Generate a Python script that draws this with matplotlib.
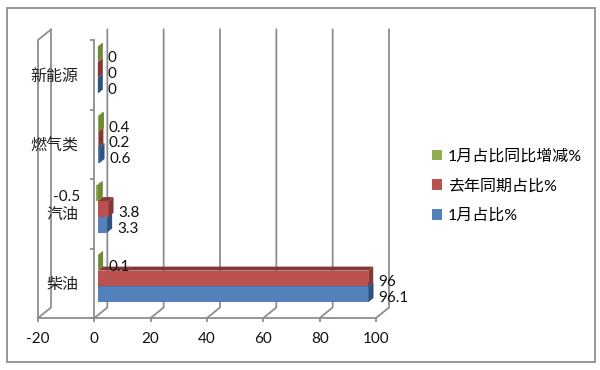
import matplotlib
matplotlib.use("Agg")
import matplotlib.pyplot as plt
from matplotlib.patches import Polygon, Rectangle

plt.rcParams["font.family"] = ["Lato", "Noto Sans CJK SC", "DejaVu Sans"]

categories = ["柴油", "汽油", "燃气类", "新能源"]
jan_share = [96.1, 3.3, 0.6, 0]
last_year_share = [96, 3.8, 0.2, 0]
yoy_change = [0.1, -0.5, 0.4, 0]
series_names = ["1月占比%", "去年同期占比%", "1月占比同比增减%"]
x_ticks = [-20, 0, 20, 40, 60, 80, 100]

GRAY = "#8e8e8e"
fronts = ["#5480bb", "#b9524f", "#8fae50"]
sides = ["#2f5380", "#863836", "#6f8a35"]

# pixels per data unit: axes is 338 x 278 px on the 600 x 370 canvas
fig = plt.figure(figsize=(6, 3.7), dpi=100, facecolor="white")
ax = fig.add_axes([38 / 600, 52 / 370, 338 / 600, 278 / 370])
ax.set_xlim(-20, 100)
ax.set_ylim(0, 4)
ux = 338 / 120
uy = 278 / 4

# 3D look, offsets in data units
wall_dx, wall_dy = 13 / ux, 10.5 / uy
bar_dx, bar_dy = 5 / ux, 4 / uy
bar_x0 = 3.5 / ux
bar_h = 15.7 / uy
bar_y0 = 16 / uy

fig.add_artist(Rectangle((7 / 600, 8 / 370), 588 / 600, 354 / 370, transform=fig.transFigure,
                         fill=False, edgecolor=GRAY, linewidth=1.3))

# walls and gridlines
for t in x_ticks:
    ax.plot([t, t + wall_dx, t + wall_dx], [0, wall_dy, 4 + wall_dy],
            color=GRAY, lw=1.3, clip_on=False, zorder=1)
ax.plot([-20, -20, -20 + wall_dx], [0, 4, 4 + wall_dy], color=GRAY, lw=1.3, clip_on=False, zorder=1)

# axes
for s in ["top", "right"]:
    ax.spines[s].set_visible(False)
for s in ["left", "bottom"]:
    ax.spines[s].set_color(GRAY)
    ax.spines[s].set_linewidth(1.3)
ax.spines["left"].set_position(("data", 0))
ax.patch.set_alpha(0)
ax.set_xticks(x_ticks)
ax.set_xticklabels([str(t) for t in x_ticks], fontsize=11, color="#111111")
ax.tick_params(axis="x", length=3, width=1.3, color=GRAY, pad=7)
ax.set_yticks(range(5))
ax.set_yticklabels([])
ax.tick_params(axis="y", which="major", length=3, width=1.3, color=GRAY)
ax.set_yticks([i + 0.5 for i in range(4)], categories, minor=True)
ax.tick_params(axis="y", which="minor", length=0, pad=11.5, labelsize=11.5, labelcolor="#222222")

# bars
all_series = [jan_share, last_year_share, yoy_change]
handles = []
for s, values in enumerate(all_series):
    bottoms = [i + bar_y0 + s * bar_h for i in range(len(categories))]
    lefts = [bar_x0] * len(values)
    bars = ax.barh(bottoms, values, height=bar_h, left=lefts, align="edge", color=fronts[s],
                   label=series_names[s], zorder=3 + s, clip_on=False)
    handles.append(bars)
    for y, v in zip(bottoms, values):
        x1 = bar_x0 + max(v, 0)
        x0 = bar_x0 + min(v, 0)
        ax.add_patch(Polygon([(x1, y), (x1 + bar_dx, y + bar_dy), (x1 + bar_dx, y + bar_h + bar_dy), (x1, y + bar_h)],
                             facecolor=sides[s], edgecolor="none", zorder=3 + s, clip_on=False))
        ax.add_patch(Polygon([(x0, y + bar_h), (x0 + bar_dx, y + bar_h + bar_dy), (x1 + bar_dx, y + bar_h + bar_dy), (x1, y + bar_h)],
                             facecolor=sides[s], edgecolor="none", zorder=3 + s, clip_on=False))
        # value label
        text_y = y + bar_h / 2 - 4 / uy
        if v < 0:
            ax.text(v - 4.5, text_y, f"{v:g}", ha="right", va="center", fontsize=11, color="#111111", zorder=10)
        else:
            ax.text(bar_x0 + v + 10 / ux, text_y, f"{v:g}", ha="left", va="center", fontsize=11, color="#111111", zorder=10)

leg = ax.legend(handles[::-1], series_names[::-1], loc="center left", bbox_to_anchor=(432 / 600, 184 / 370),
                bbox_transform=fig.transFigure, frameon=False, fontsize=11.5, handlelength=0.65, handleheight=0.65,
                handletextpad=0.35, labelspacing=0.95, borderpad=0, borderaxespad=0)

fig.savefig("out.png", dpi=100)
